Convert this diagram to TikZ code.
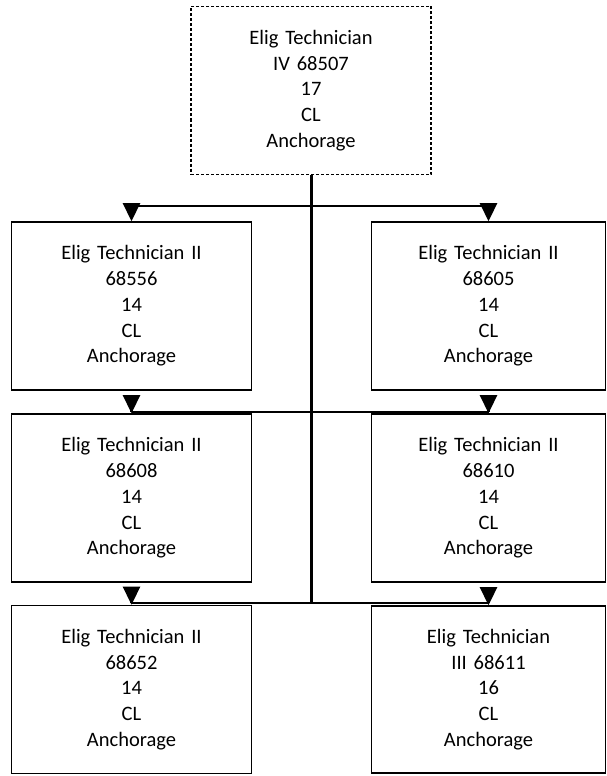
\documentclass[tikz,border=0pt]{standalone}
\usepackage{fontspec}
\setmainfont{Carlito}
\usetikzlibrary{arrows.meta}
\tikzset{
  box/.style={draw, line width=1.6pt, minimum width=240pt, minimum height=168pt, inner sep=0pt,
    text width=230pt, align=center, font=\fontsize{20.5}{25.7}\selectfont},
  topbox/.style={box, dash pattern=on 3pt off 2pt, line width=1.5pt},
  hline/.style={line width=2.6pt},
  trunkline/.style={line width=3pt},
  arr/.style={line width=2.6pt, -{Triangle[length=18pt,width=17pt]}}
}
\begin{document}
\begin{tikzpicture}[x=1pt,y=-1pt]
\useasboundingbox (0,0) rectangle (607,776);
\node[topbox] (top) at (311,90.5) {Elig Technician\\IV 68507\\17\\CL\\Anchorage};
\node[box] (a) at (131.5,306) {Elig Technician II\\68556\\14\\CL\\Anchorage};
\node[box, minimum width=234pt] (b) at (488.5,306) {Elig Technician II\\68605\\14\\CL\\Anchorage};
\node[box] (c) at (131.5,498) {Elig Technician II\\68608\\14\\CL\\Anchorage};
\node[box, minimum width=234pt] (d) at (488.5,498) {Elig Technician II\\68610\\14\\CL\\Anchorage};
\node[box] (e) at (131.5,689.5) {Elig Technician II\\68652\\14\\CL\\Anchorage};
\node[box, minimum width=234pt, minimum height=167pt] (f) at (488.5,689.5) {Elig Technician\\III 68611\\16\\CL\\Anchorage};
% junction coordinates
\coordinate (h1L) at (131.5,206);
\coordinate (h1R) at (488.5,206);
\coordinate (h2L) at (131.5,412);
\coordinate (h2R) at (488.5,412);
\coordinate (h3L) at (131.5,603);
\coordinate (h3R) at (488.5,603);
\coordinate (t3) at (311,603);
\draw[trunkline] (top.south) -- (t3);
\draw[hline] (h1L) -- (h1R);
\draw[hline] (h2L) -- (h2R);
\draw[hline] (h3L) -- (h3R);
\draw[arr] (h1L) -- (a.north);
\draw[arr] (h1R) -- (b.north);
\draw[arr] (h2L) -- (c.north);
\draw[arr] (h2R) -- (d.north);
\draw[arr] (h3L) -- (e.north);
\draw[arr] (h3R) -- (f.north);
\end{tikzpicture}
\end{document}
